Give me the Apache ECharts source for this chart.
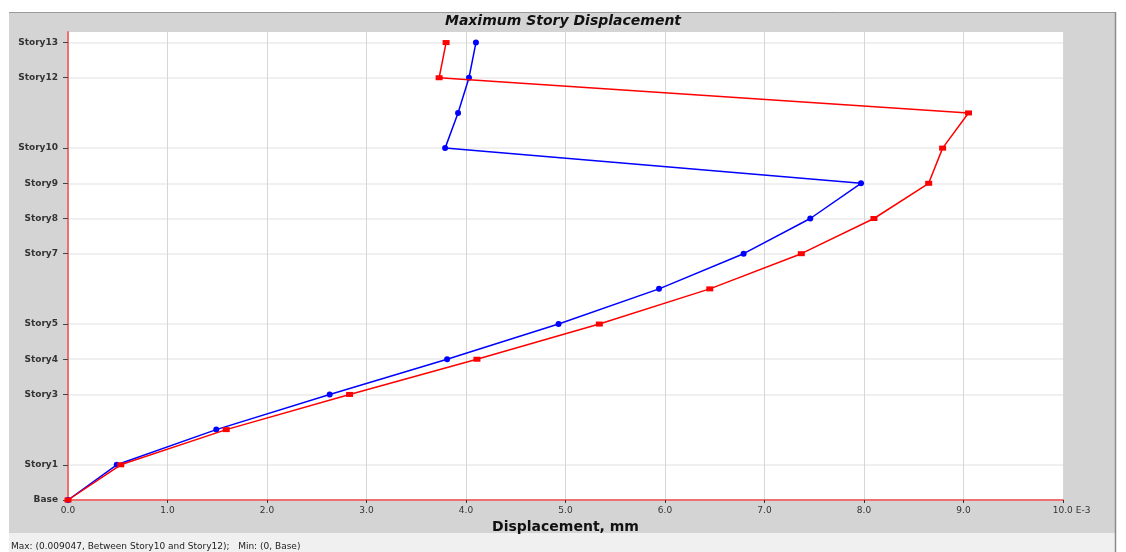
<!DOCTYPE html>
<html>
<head>
<meta charset="utf-8">
<script src="https://cdn.jsdelivr.net/npm/echarts@6/dist/echarts.min.js"></script>
<style>
  html, body { margin: 0; padding: 0; background: #ffffff; }
  #chart { width: 1126px; height: 552px; }
</style>
</head>
<body>
<div id="chart"></div>
<script>
// ---- data ----
const storyNames = ['Base', 'Story1', 'Story2', 'Story3', 'Story4', 'Story5', 'Story6',
                    'Story7', 'Story8', 'Story9', 'Story10', 'Story11', 'Story12', 'Story13'];
const storyLevels = [0, 1, 2, 3, 4, 5, 6, 7, 8, 9, 10, 11, 12, 13];
const labeledLevels = [0, 1, 3, 4, 5, 7, 8, 9, 10, 12, 13];
// displacement in units of E-3 mm
const blueDisp = [0, 0.49, 1.49, 2.63, 3.81, 4.93, 5.94, 6.79, 7.46, 7.97, 3.79, 3.92, 4.03, 4.10];
const redDisp  = [0, 0.53, 1.59, 2.83, 4.11, 5.34, 6.45, 7.37, 8.10, 8.65, 8.79, 9.05, 3.73, 3.80];
const xTickValues = [0, 1, 2, 3, 4, 5, 6, 7, 8, 9, 10];
const xTickLabels = ['0.0', '1.0', '2.0', '3.0', '4.0', '5.0', '6.0', '7.0', '8.0', '9.0', '      10.0 E-3'];
const titleText = 'Maximum Story Displacement';
const xAxisTitle = 'Displacement, mm';
const statusText = 'Max: (0.009047, Between Story10 and Story12);   Min: (0, Base)';

const blueData = storyLevels.map((lv, i) => [blueDisp[i], lv]);
const redData = storyLevels.map((lv, i) => [redDisp[i], lv]);

const chart = echarts.init(document.getElementById('chart'), null, { renderer: 'canvas' });
chart.setOption({
  animation: false,
  backgroundColor: '#ffffff',
  graphic: [
    { type: 'rect', z: -10, shape: { x: 9, y: 12, width: 1107, height: 521 },
      style: { fill: '#d4d4d4' } },
    { type: 'rect', z: -10, shape: { x: 9, y: 533, width: 1107, height: 19 },
      style: { fill: '#f0f0f0' } },
    { type: 'line', z: -9, shape: { x1: 9, y1: 12.5, x2: 1116, y2: 12.5 },
      style: { stroke: '#9a9a9a', lineWidth: 1 } },
    { type: 'line', z: -9, shape: { x1: 1115.5, y1: 12, x2: 1115.5, y2: 552 },
      style: { stroke: '#8a8a8a', lineWidth: 1.5 } },
    { type: 'text', x: 11, y: 547,
      style: { text: statusText, fill: '#222', font: '9px "DejaVu Sans"',
               textVerticalAlign: 'middle' } }
  ],
  title: {
    text: titleText,
    left: 'center',
    top: 14,
    padding: [0, 0, 0, 6],
    textStyle: { fontFamily: 'DejaVu Sans', fontSize: 14, fontWeight: 'bold',
                 fontStyle: 'italic', color: '#111' }
  },
  grid: {
    left: 68, right: 63, top: 32, bottom: 52,
    show: true, backgroundColor: '#ffffff', borderWidth: 0,
    outerBoundsMode: 'none'
  },
  xAxis: {
    type: 'value',
    min: 0, max: 10, interval: 1,
    name: xAxisTitle,
    nameLocation: 'middle',
    nameGap: 14,
    nameTextStyle: { fontFamily: 'DejaVu Sans', fontSize: 14, fontWeight: 'bold', color: '#111' },
    axisLine: { show: true, lineStyle: { color: '#ee7070', width: 2 } },
    axisTick: { show: true, length: 3, lineStyle: { color: '#333' } },
    axisLabel: {
      margin: 6,
      fontFamily: 'DejaVu Sans', fontSize: 9, color: '#333',
      formatter: (v) => { const i = xTickValues.indexOf(v); return i >= 0 ? xTickLabels[i] : ''; }
    },
    splitLine: { show: true, lineStyle: { color: '#d6d6d6', width: 1 } }
  },
  yAxis: {
    type: 'value',
    min: 0, max: 13.3,
    axisLine: { show: true, lineStyle: { color: '#ee7070', width: 2 } },
    axisTick: { show: true, length: 5, customValues: labeledLevels, lineStyle: { color: '#444' } },
    axisLabel: {
      customValues: labeledLevels,
      margin: 10,
      fontFamily: 'DejaVu Sans', fontSize: 9, fontWeight: 'bold', color: '#333',
      formatter: (v) => storyNames[Math.round(v)] || ''
    },
    splitLine: { show: true, lineStyle: { color: '#ebebeb', width: 1.5 } }
  },
  series: [
    {
      name: 'Blue case', type: 'line', data: blueData,
      symbol: 'circle', symbolSize: 6,
      lineStyle: { color: '#0000ff', width: 1.5 },
      itemStyle: { color: '#0000ff' },
      z: 3
    },
    {
      name: 'Red case', type: 'line', data: redData,
      symbol: 'rect', symbolSize: [7, 5],
      lineStyle: { color: '#ff0000', width: 1.5 },
      itemStyle: { color: '#ff0000' },
      z: 4
    }
  ]
});
</script>
</body>
</html>
